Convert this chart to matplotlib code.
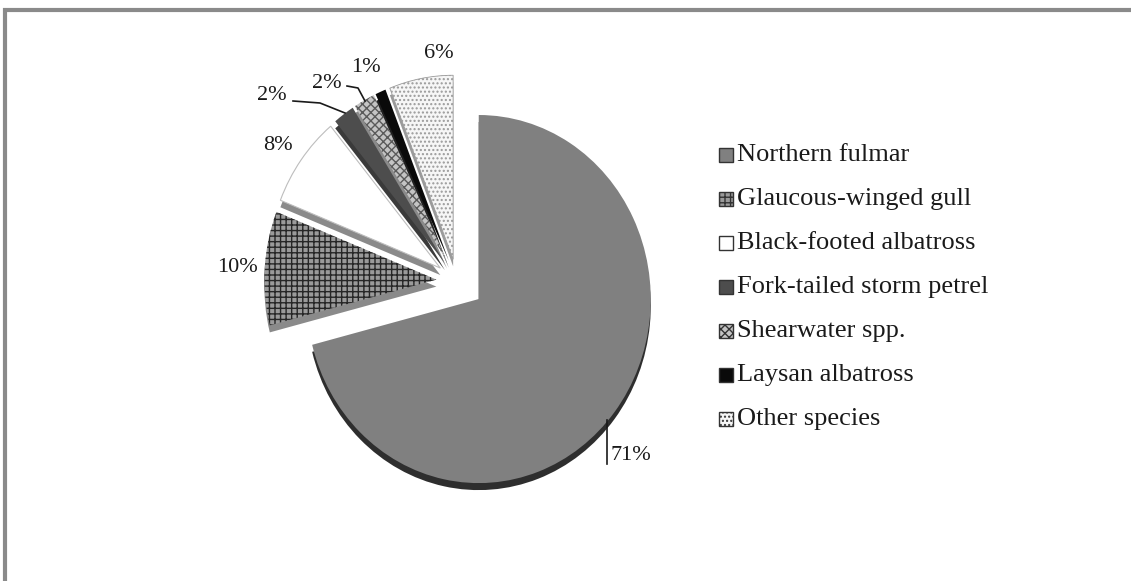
import matplotlib
matplotlib.use('Agg')
import numpy as np
import matplotlib.pyplot as plt
from matplotlib.transforms import Affine2D

plt.rcParams['font.family'] = ['Liberation Serif', 'DejaVu Serif']

# Share of seabird bycatch by species (%)
species = ['Northern fulmar', 'Glaucous-winged gull', 'Black-footed albatross',
           'Fork-tailed storm petrel', 'Shearwater spp.', 'Laysan albatross',
           'Other species']
percent = [71, 10, 8, 2, 2, 1, 6]

face_colors = ['#808080', '#9a9a9a', '#ffffff', '#4d4d4d', '#c4c4c4', '#0a0a0a', '#f6f6f6']
hatches = [None, '+++', None, None, 'xxxx', None, '....']
hatch_colors = [None, '#262626', None, None, '#5a5a5a', None, '#9a9a9a']
side_colors = ['#2e2e2e', '#8a8a8a', '#8a8a8a', '#3a3a3a', '#8a8a8a', '#202020', '#9a9a9a']
explode = [0.16, 0.12, 0.12, 0.12, 0.12, 0.12, 0.12]

W, H = 1131, 581
CX, CY = 457, 300      # pie centre, pixels from bottom-left
R = 172
YSCALE = 1.07          # slight vertical stretch of the pie


def px(x, y):
    """image pixel (origin top-left) -> data coords"""
    return x, H - y


def draw_pie(ax, colors, hatch_list, hcolors, shift, zorder):
    # pie() takes explode in data units, so scale it by the radius
    wedges, _ = ax.pie(percent, radius=R, center=(CX, CY), startangle=90,
                       counterclock=False, explode=[e * R for e in explode], frame=True)
    stretch = Affine2D().translate(-CX, -CY).scale(1, YSCALE).translate(CX, CY - shift)
    for w, fc, h, hc in zip(wedges, colors, hatch_list, hcolors):
        w.set_transform(stretch + ax.transData)
        w.set_facecolor(fc)
        w.set_linewidth(0)
        w.set_zorder(zorder)
        if h:
            w.set_hatch(h)
            w.set_edgecolor(hc)
    return wedges


fig = plt.figure(figsize=(W / 100, H / 100), dpi=100)
ax = fig.add_axes([0, 0, 1, 1])

# side of the 3D pie, then the top face
draw_pie(ax, side_colors, [None] * 7, [None] * 7, shift=7, zorder=1)
faces = draw_pie(ax, face_colors, hatches, hatch_colors, shift=0, zorder=2)
faces[2].set_edgecolor('#bdbdbd')
faces[2].set_linewidth(0.8)
faces[6].set_linewidth(0.6)

ax.set_xlim(0, W)
ax.set_ylim(0, H)
ax.set_aspect('auto')
ax.axis('off')

# percentage labels
label_pos = [(631, 456), (237, 267), (278, 146), (272, 96), (327, 83), (366, 67), (439, 53)]
for p, (x, y) in zip(percent, label_pos):
    ax.text(*px(x, y), f'{p}%', fontsize=16, ha='center', va='center', color='#1a1a1a')

# leader lines
leaders = [
    [(607, 420), (607, 464)],
    [(293, 101), (320, 103), (345, 113)],
    [(347, 86), (358, 88), (365, 101)],
]
for pts in leaders:
    xs, ys = zip(*[px(x, y) for x, y in pts])
    ax.plot(xs, ys, color='#1a1a1a', lw=1.2, zorder=3)

# legend
leg_y0, leg_dy = 155, 44
for i, (name, fc, h, hc) in enumerate(zip(species, face_colors, hatches, hatch_colors)):
    y = leg_y0 + i * leg_dy
    x, yy = px(719, y + 7)
    sq = plt.Rectangle((x, yy), 14, 14, facecolor=fc, edgecolor='#333333',
                       lw=1.0, hatch=h, zorder=3)
    ax.add_patch(sq)
    ax.text(*px(737, y), name, fontsize=19, ha='left', va='center', color='#1a1a1a')

# frame (top and left only)
ax.plot([5, 5, W], [0, H - 10, H - 10], color='#8a8a8a', lw=3, solid_joinstyle='miter',
        solid_capstyle='butt', zorder=4)

fig.savefig('out.png', dpi=100)
